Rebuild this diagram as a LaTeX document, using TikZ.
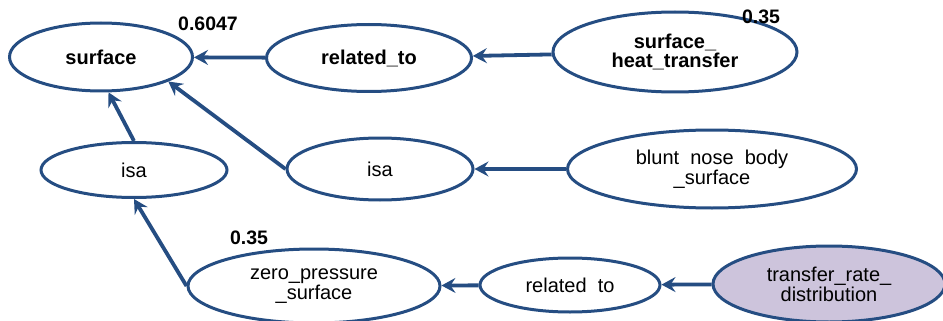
\documentclass[tikz,border=0pt]{standalone}
\usepackage{fontspec}
\setmainfont{Liberation Sans}
\usetikzlibrary{shapes.geometric,arrows.meta}
\definecolor{linkblue}{RGB}{37,77,130}
\definecolor{querylilac}{RGB}{205,196,220}
\begin{document}
\begin{tikzpicture}[x=1pt,y=-1pt,
  concept/.style={ellipse, draw=linkblue, line width=3pt, inner sep=0pt, align=center, font=\fontsize{20}{20}\selectfont},
  link/.style={draw=linkblue, line width=3.8pt, -{Stealth[length=14pt,width=15pt,inset=5pt]}},
  score/.style={font=\fontsize{19.5}{19.5}\selectfont\bfseries}]
\useasboundingbox (0,0) rectangle (943,321);
\node[concept, minimum width=183pt, minimum height=68pt, font=\fontsize{20}{20}\selectfont\bfseries] (surface) at(101,57) {surface};
\node[concept, minimum width=205pt, minimum height=67pt, font=\fontsize{20}{20}\selectfont\bfseries] (relTop) at(369,58) {related\_to};
\node[concept, minimum width=244pt, minimum height=80pt, font=\fontsize{20}{19}\selectfont\bfseries] (heat) at(675,52) {surface\_\\heat\_transfer};
\node[concept, minimum width=186pt, minimum height=55pt] (isaLeft) at(134,170) {isa};
\node[concept, minimum width=186pt, minimum height=62pt] (isaMid) at(380,169) {isa};
\node[concept, minimum width=289pt, minimum height=78pt] (blunt) at(712,169) {blunt~~nose~~body\\\_surface};
\node[concept, minimum width=252pt, minimum height=74pt] (zero) at(314,286) {zero\_pressure\\\_surface};
\node[concept, minimum width=180pt, minimum height=54pt] (relBot) at(570,285) {related~~to};
\node[concept, fill=querylilac, minimum width=232pt, minimum height=76pt] (rate) at(829,284) {transfer\_rate\_\\distribution};
\node[score] (scSurface) at(208,24) {0.6047};
\node[score] (scHeat) at(761,17) {0.35};
\node[score] (scZero) at(249,238) {0.35};
\draw[link] (relTop) -- (surface);
\draw[link] (heat) -- (relTop);
\draw[link] (isaLeft.north) -- (surface.-78);
\draw[link] (isaMid.west) -- (surface.-20);
\draw[link] (blunt) -- (isaMid);
\draw[link] (zero.west) -- (isaLeft.south);
\draw[link] (relBot) -- (zero);
\draw[link] (rate) -- (relBot);
\end{tikzpicture}
\end{document}
